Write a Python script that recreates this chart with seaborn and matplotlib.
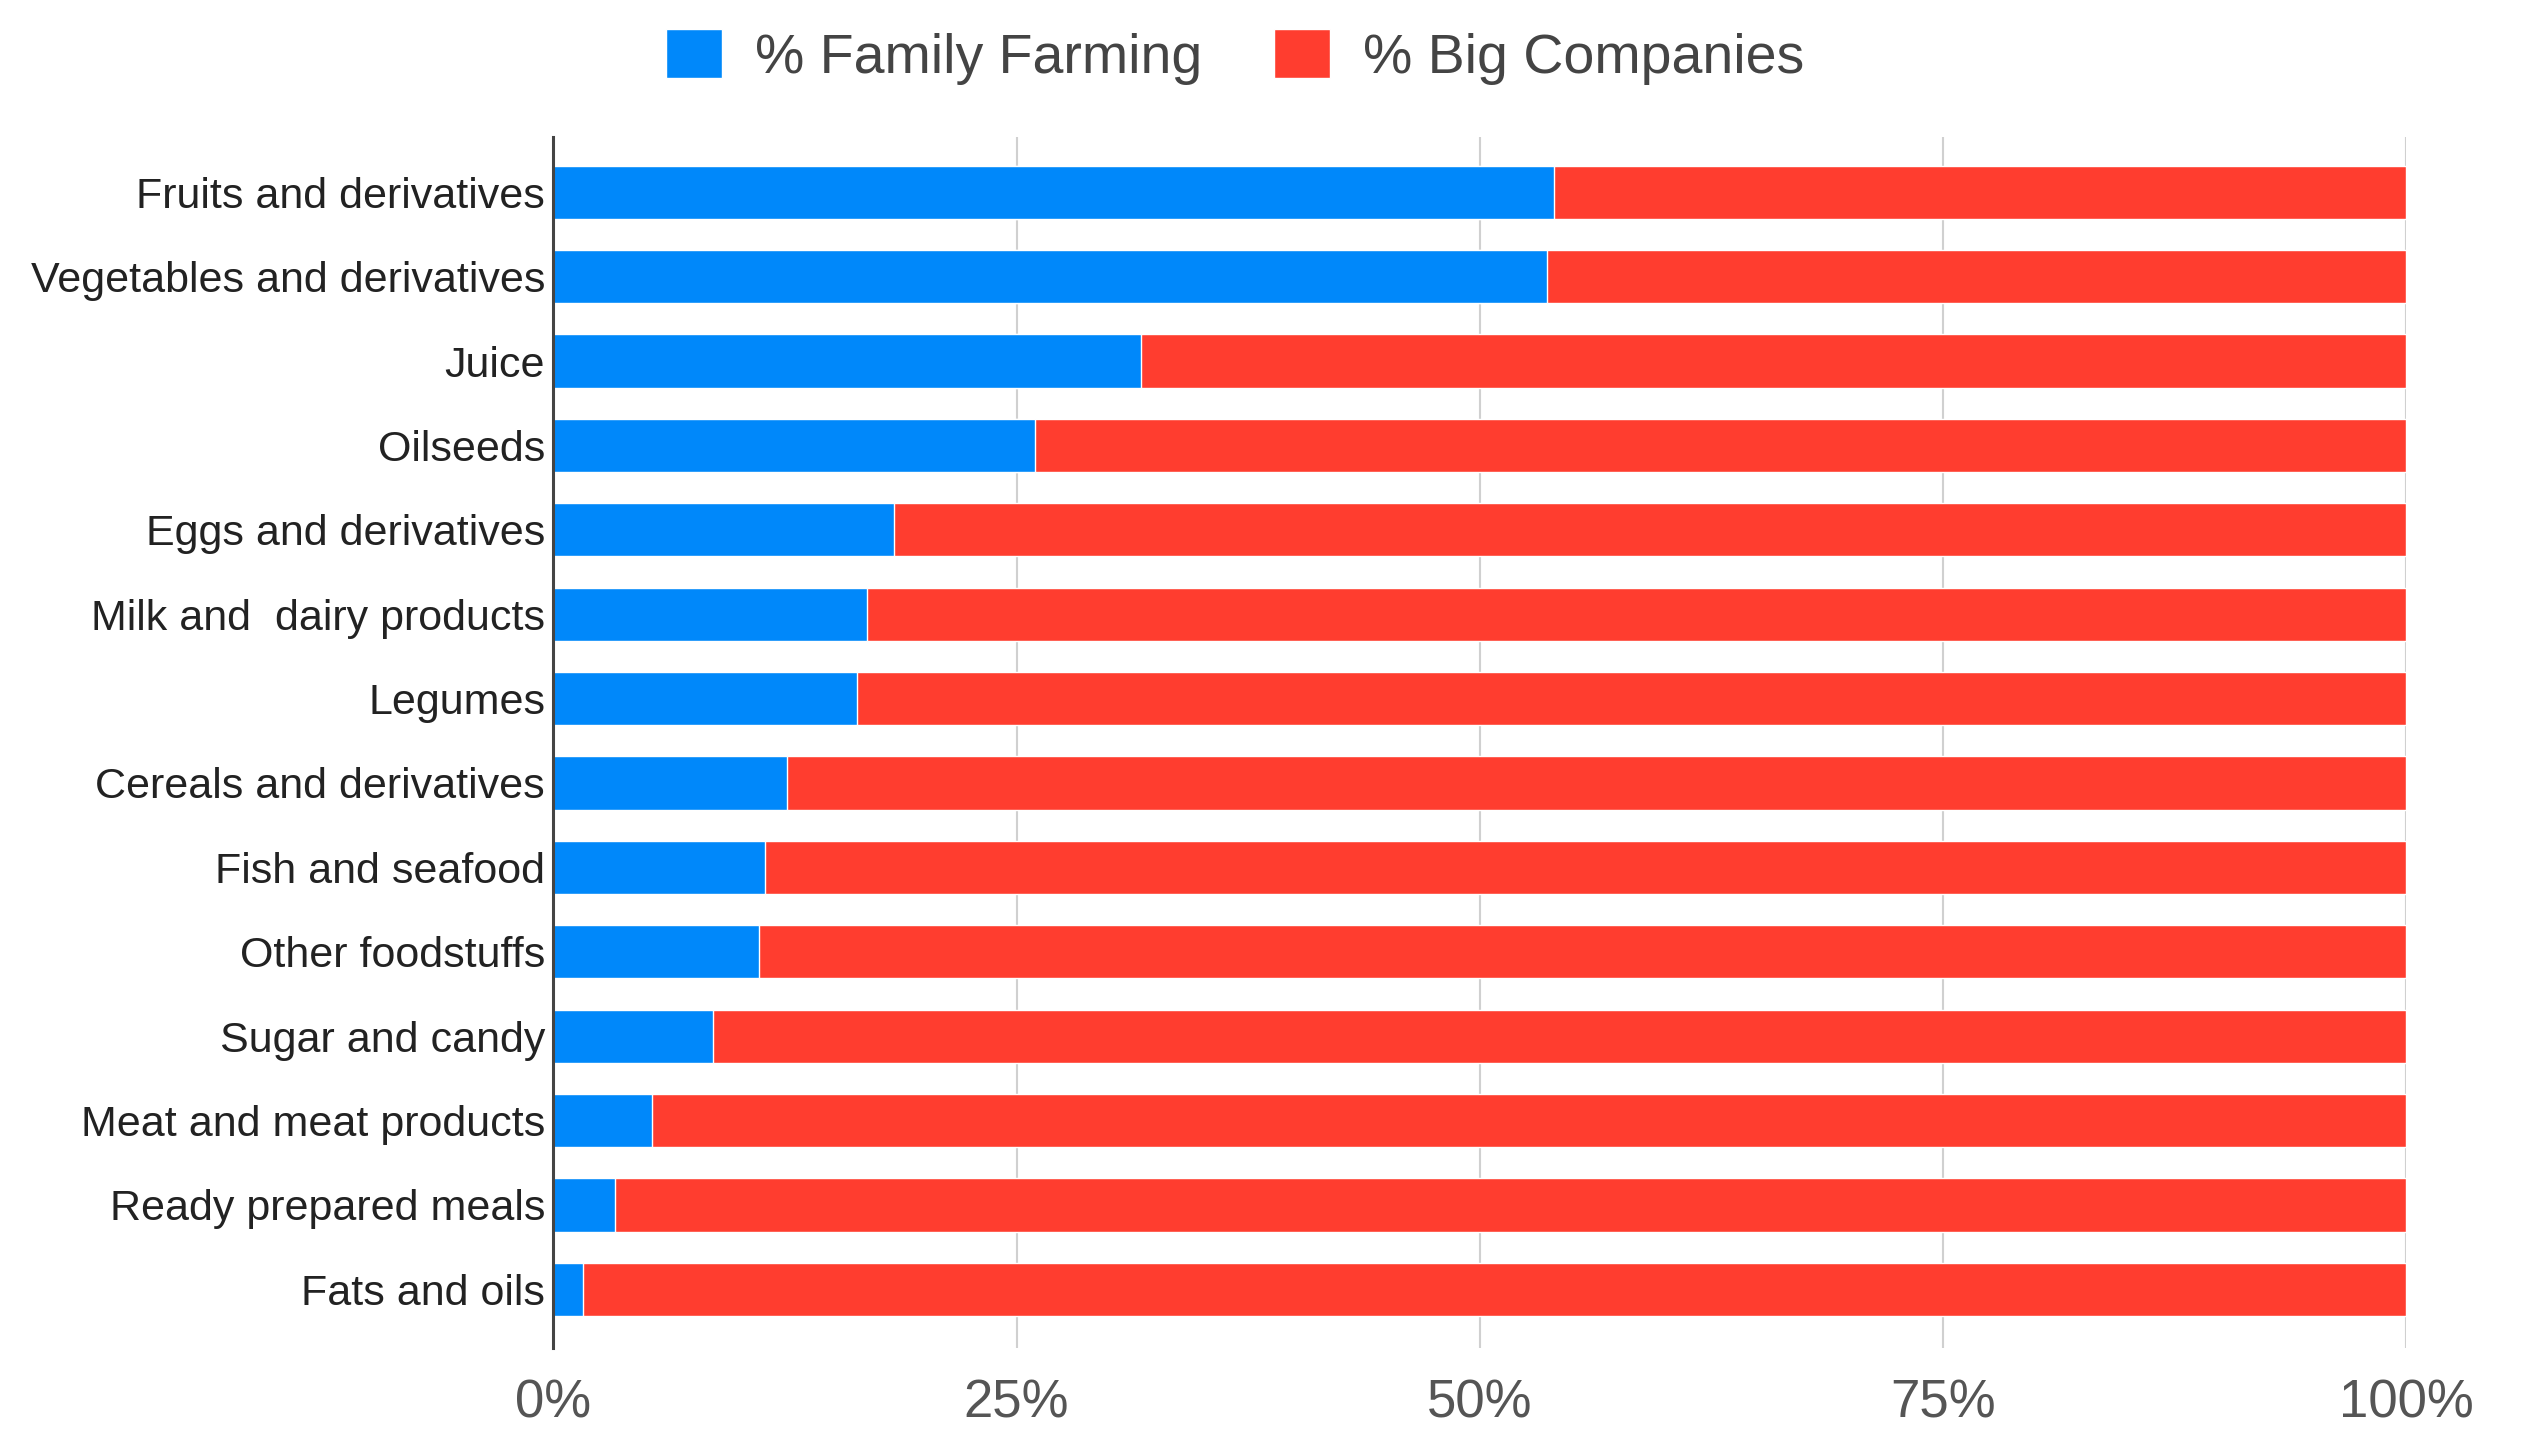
import matplotlib.pyplot as plt
import numpy as np
import pandas as pd
import seaborn as sns
from matplotlib.patches import Patch
from matplotlib.ticker import PercentFormatter


categories = [
    "Fruits and derivatives",
    "Vegetables and derivatives",
    "Juice",
    "Oilseeds",
    "Eggs and derivatives",
    "Milk and  dairy products",
    "Legumes",
    "Cereals and derivatives",
    "Fish and seafood",
    "Other foodstuffs",
    "Sugar and candy",
    "Meat and meat products",
    "Ready prepared meals",
    "Fats and oils",
]
family_farming = [54.0, 53.6, 31.7, 26.0, 18.4, 16.9, 16.4, 12.6, 11.4, 11.1, 8.6, 5.3, 3.3, 1.6]
big_companies = [100 - v for v in family_farming]

BLUE = "#0088FA"
RED = "#FF3D2F"

df = pd.DataFrame({
    "category": categories,
    "family": family_farming,
    "total": np.array(family_farming) + np.array(big_companies),
})

sns.set_theme(style="white")
plt.rcParams["font.family"] = ["Liberation Sans", "DejaVu Sans"]

fig = plt.figure(figsize=(25.21, 14.53), dpi=100)
ax = fig.add_axes([0.2195, 0.072, 0.735, 0.834])

sns.barplot(data=df, y="category", x="total", color=RED, width=0.63,
            saturation=1, orient="h", ax=ax)
sns.barplot(data=df, y="category", x="family", color=BLUE, width=0.63,
            saturation=1, orient="h", ax=ax)

ax.set_xlim(0, 100)
ax.set_ylim(13.7, -0.66)
ax.set_xticks([0, 25, 50, 75, 100])
ax.xaxis.set_major_formatter(PercentFormatter(decimals=0))
ax.grid(axis="x", color="#d0d0d0", linewidth=1.5)
ax.set_axisbelow(True)
for side in ["top", "right", "bottom"]:
    ax.spines[side].set_visible(False)
ax.spines["left"].set_color("#444444")
ax.spines["left"].set_linewidth(2.2)
ax.spines["left"].set_zorder(5)
ax.set_xlabel("")
ax.set_ylabel("")
ax.tick_params(axis="x", length=0, pad=22, labelsize=38, labelcolor="#555555")
ax.tick_params(axis="y", length=0, pad=6, labelsize=31, labelcolor="#222222")

handles = [Patch(facecolor=BLUE, label="% Family Farming"),
           Patch(facecolor=RED, label="% Big Companies")]
fig.legend(handles=handles, loc="center", bbox_to_anchor=(0.49, 0.961), ncol=2,
           frameon=False, fontsize=40, handlelength=1.0, handleheight=1.0,
           handletextpad=0.6, columnspacing=1.3, labelcolor="#444444")

fig.savefig("out.png", dpi=100)
plt.close(fig)
